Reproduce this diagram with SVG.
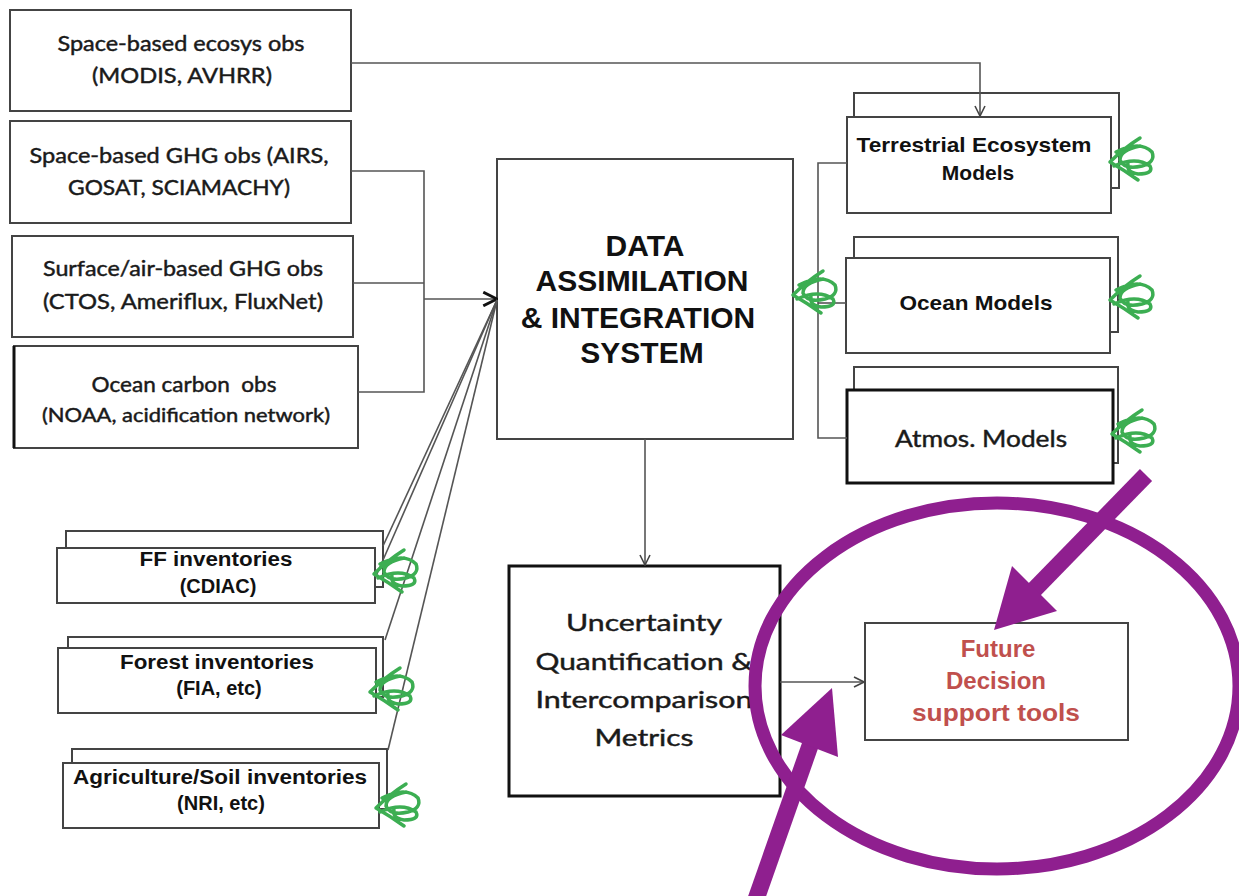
<svg xmlns="http://www.w3.org/2000/svg" xmlns:xlink="http://www.w3.org/1999/xlink" width="1239" height="896" viewBox="0 0 1239 896">
<style>
.box{fill:#fff;stroke:#444;stroke-width:2}
.thick{fill:#fff;stroke:#111;stroke-width:3}
.cal{font-family:Lato,"Open Sans",sans-serif;fill:#1a1a1a;stroke:#1a1a1a;stroke-width:0.45;text-anchor:middle}
.ar{font-family:"Liberation Sans",Arial,sans-serif;font-weight:bold;fill:#111;text-anchor:middle}
.con{fill:none;stroke:#555;stroke-width:1.6}
.scr{fill:none;stroke:#3cae52;stroke-width:3.5;stroke-linecap:round;stroke-linejoin:round}
.pur{fill:none;stroke:#8f1f8f}
</style>
<defs>
<marker id="ah" viewBox="0 0 12 12" refX="11" refY="6" markerWidth="12" markerHeight="12" markerUnits="userSpaceOnUse" orient="auto">
<path d="M1,1 L11,6 L1,11" fill="none" stroke="#444" stroke-width="1.6"/>
</marker>
<marker id="ahb" viewBox="0 0 14 14" refX="13" refY="7" markerWidth="16" markerHeight="16" markerUnits="userSpaceOnUse" orient="auto">
<path d="M1,1 L13,7 L1,13" fill="none" stroke="#111" stroke-width="2.5"/>
</marker>
<path id="scrib" class="scr" d="M30,-22 Q14,-12 0,2 Q14,10 28,20 M6,-8 Q30,-20 42,-8 Q46,2 32,6 Q14,10 10,0 Q10,-10 30,-14 M4,6 Q26,-4 40,6 Q44,14 28,14 Q16,12 18,4"/>
</defs>

<g id="space-ecosys">
<rect class="box" x="10" y="10" width="341" height="101"/>
<text class="cal" font-size="21" x="181" y="51" textLength="247" lengthAdjust="spacingAndGlyphs">Space-based ecosys obs</text>
<text class="cal" font-size="21" x="182" y="83" textLength="180" lengthAdjust="spacingAndGlyphs">(MODIS, AVHRR)</text>
</g>
<g id="space-ghg">
<rect class="box" x="10" y="121" width="341" height="102"/>
<text class="cal" font-size="21" x="179" y="163" textLength="299" lengthAdjust="spacingAndGlyphs">Space-based GHG obs (AIRS,</text>
<text class="cal" font-size="21" x="179" y="195" textLength="222" lengthAdjust="spacingAndGlyphs">GOSAT, SCIAMACHY)</text>
</g>
<g id="surface-ghg">
<rect class="box" x="12" y="236" width="341" height="101"/>
<text class="cal" font-size="21" x="183" y="276" textLength="280" lengthAdjust="spacingAndGlyphs">Surface/air-based GHG obs</text>
<text class="cal" font-size="21" x="183" y="309" textLength="280" lengthAdjust="spacingAndGlyphs">(CTOS, Ameriflux, FluxNet)</text>
</g>
<g id="ocean-carbon">
<rect class="box" x="14" y="346" width="344" height="102"/>
<line x1="14" y1="346" x2="14" y2="448" stroke="#111" stroke-width="3"/>
<text class="cal" font-size="21" x="184" y="392" textLength="185" lengthAdjust="spacingAndGlyphs" xml:space="preserve">Ocean carbon  obs</text>
<text class="cal" font-size="19" x="186" y="422" textLength="288" lengthAdjust="spacingAndGlyphs">(NOAA, acidification network)</text>
</g>

<g id="data-assimilation">
<rect class="box" x="497" y="159" width="296" height="280"/>
<text class="ar" font-size="30" x="645" y="256">DATA</text>
<text class="ar" font-size="30" x="642" y="291">ASSIMILATION</text>
<text class="ar" font-size="30" x="638" y="328">&amp; INTEGRATION</text>
<text class="ar" font-size="30" x="642" y="363">SYSTEM</text>
</g>

<g id="terrestrial-models">
<rect class="box" x="854" y="93" width="265" height="95"/>
<rect class="box" x="847" y="117" width="264" height="96"/>
<text class="ar" font-size="21" x="974" y="152" textLength="235" lengthAdjust="spacingAndGlyphs">Terrestrial Ecosystem</text>
<text class="ar" font-size="21" x="978" y="180">Models</text>
</g>
<g id="ocean-models">
<rect class="box" x="854" y="237" width="264" height="95"/>
<rect class="box" x="846" y="258" width="264" height="95"/>
<text class="ar" font-size="21" x="976" y="310" textLength="153" lengthAdjust="spacingAndGlyphs">Ocean Models</text>
</g>
<g id="atmos-models">
<rect class="box" x="854" y="367" width="264" height="96"/>
<rect class="thick" x="847" y="390" width="266" height="93"/>
<text class="cal" font-size="23" x="981" y="447" textLength="172" lengthAdjust="spacingAndGlyphs">Atmos. Models</text>
</g>

<g id="ff-inventories">
<rect class="box" x="66" y="531" width="317" height="56"/>
<rect class="box" x="57" y="548" width="318" height="55"/>
<text class="ar" font-size="20" x="216" y="566" textLength="153" lengthAdjust="spacingAndGlyphs">FF inventories</text>
<text class="ar" font-size="20" x="218" y="593">(CDIAC)</text>
</g>
<g id="forest-inventories">
<rect class="box" x="68" y="637" width="315" height="60"/>
<rect class="box" x="58" y="648" width="318" height="65"/>
<text class="ar" font-size="20" x="217" y="669" textLength="194" lengthAdjust="spacingAndGlyphs">Forest inventories</text>
<text class="ar" font-size="20" x="219" y="695">(FIA, etc)</text>
</g>
<g id="agri-inventories">
<rect class="box" x="72" y="749" width="315" height="60"/>
<rect class="box" x="63" y="763" width="316" height="65"/>
<text class="ar" font-size="20" x="220" y="784" textLength="294" lengthAdjust="spacingAndGlyphs">Agriculture/Soil inventories</text>
<text class="ar" font-size="20" x="221" y="810">(NRI, etc)</text>
</g>

<g id="uncertainty">
<rect class="thick" x="509" y="566" width="271" height="230"/>
<text class="cal" font-size="24" x="644" y="631" textLength="156" lengthAdjust="spacingAndGlyphs">Uncertainty</text>
<text class="cal" font-size="24" x="644" y="670" textLength="217" lengthAdjust="spacingAndGlyphs">Quantification &amp;</text>
<text class="cal" font-size="24" x="644" y="708" textLength="217" lengthAdjust="spacingAndGlyphs">Intercomparison</text>
<text class="cal" font-size="24" x="644" y="746" textLength="99" lengthAdjust="spacingAndGlyphs">Metrics</text>
</g>

<g id="future-tools">
<rect class="box" x="865" y="623" width="263" height="117" stroke="#555"/>
<text class="ar" font-size="24" x="998" y="657" style="fill:#c0504d">Future</text>
<text class="ar" font-size="24" x="996" y="689" style="fill:#c0504d">Decision</text>
<text class="ar" font-size="24" x="996" y="721" style="fill:#c0504d" textLength="168" lengthAdjust="spacingAndGlyphs">support tools</text>
</g>

<g id="connectors">
<polyline class="con" points="351,63 980,63 980,116" marker-end="url(#ah)"/>
<polyline class="con" points="351,171 424,171 424,392 358,392"/>
<line class="con" x1="353" y1="283" x2="424" y2="283"/>
<line class="con" x1="424" y1="299" x2="497" y2="299" marker-end="url(#ahb)"/>
<line class="con" x1="383" y1="546" x2="497" y2="300"/>
<line class="con" x1="376" y1="576" x2="497" y2="300"/>
<line class="con" x1="385" y1="640" x2="497" y2="300"/>
<line class="con" x1="388" y1="750" x2="497" y2="300"/>
<line class="con" x1="645" y1="439" x2="645" y2="565" marker-end="url(#ah)"/>
<polyline class="con" points="847,163 818,163 818,438 847,438"/>
<line class="con" x1="818" y1="303" x2="846" y2="303"/>
<line class="con" x1="780" y1="682" x2="864" y2="682" marker-end="url(#ah)"/>
</g>

<g id="green-marks">
<use xlink:href="#scrib" href="#scrib" x="1110" y="160"/>
<use xlink:href="#scrib" href="#scrib" x="1110" y="298"/>
<use xlink:href="#scrib" href="#scrib" x="1112" y="432"/>
<use xlink:href="#scrib" href="#scrib" x="793" y="293"/>
<use xlink:href="#scrib" href="#scrib" x="374" y="572"/>
<use xlink:href="#scrib" href="#scrib" x="370" y="690"/>
<use xlink:href="#scrib" href="#scrib" x="376" y="806"/>
</g>

<g id="highlight">
<ellipse class="pur" cx="997" cy="686" rx="242" ry="183" stroke-width="13"/>
<line class="pur" x1="1146" y1="475" x2="1030" y2="594" stroke-width="17"/>
<polygon fill="#8f1f8f" points="994,630 1012,566 1057,611"/>
<line class="pur" x1="812" y1="740" x2="754" y2="905" stroke-width="17"/>
<polygon fill="#8f1f8f" points="832,688 781,735 838,757"/>
</g>
</svg>
